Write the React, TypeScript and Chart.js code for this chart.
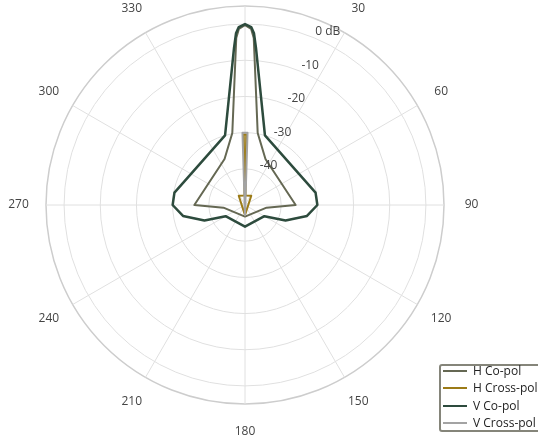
import React, { useEffect, useRef } from 'react';
import { Chart, registerables } from 'chart.js';

Chart.register(...registerables);

// Categories: one per degree (clockwise from top)
const degreeLabels: string[] = Array.from({ length: 360 }, (_, i) => String(i));

// Angular tick labels
const angleTickDegrees = [0, 30, 60, 90, 120, 150, 180, 210, 240, 270, 300, 330];
const angleTickLabels = ['0', '30', '60', '90', '120', '150', '180', '210', '240', '270', '300', '330'];

// Radial tick labels
const radialTickValues = [0, -10, -20, -30, -40];
const radialTickLabels = ['0 dB', '-10', '-20', '-30', '-40'];

// Series: measured angles (deg) and levels (dB)
const hCoAngles = [0, 2, 3, 10, 24, 90, 97, 180, 263, 270, 336, 350, 357, 358];
const hCoValues = [-0.3, -1.3, -3.8, -29.8, -36.1, -36, -44, -46.8, -44, -36, -36.1, -29.8, -3.8, -1.3];

const hCrossAngles = [0, 1, 3, 34, 180, 326, 357, 359];
const hCrossValues = [-30.5, -30.5, -47.4, -46.9, -47.2, -46.9, -47.4, -30.5];

const vCoAngles = [0, 2, 3, 4, 16, 80, 90, 100, 111, 120, 180, 240, 249, 260, 270, 280, 344, 356, 357, 358];
const vCoValues = [0, -0.8, -2.5, -6.5, -30, -30.2, -30, -32.6, -38, -43.8, -44, -43.8, -38, -32.6, -30, -30.2, -30, -6.5, -2.5, -0.8];

const vCrossAngles = [0, 2, 180, 358];
const vCrossValues = [-30, -30, -47.2, -30];

const seriesNames = ['H Co-pol', 'H Cross-pol', 'V Co-pol', 'V Cross-pol'];
const seriesColors = ['#656853', '#9C7B17', '#2D4B3D', '#A3A3A3'];

function toSeries(angles: number[], values: number[]): (number | null)[] {
  const arr: (number | null)[] = degreeLabels.map(() => null);
  angles.forEach((a, i) => {
    arr[a] = values[i];
  });
  return arr;
}

const labelPlugin = {
  id: 'polarLabels',
  afterDraw(chart: any) {
    const scale = chart.scales.r;
    const ctx = chart.ctx;
    ctx.save();
    ctx.font = '12px "Open Sans"';
    ctx.fillStyle = '#444444';
    ctx.textAlign = 'center';
    ctx.textBaseline = 'middle';
    const outer = scale.getDistanceFromCenterForValue(scale.max);
    angleTickDegrees.forEach((deg, i) => {
      const p = scale.getPointPosition(deg, outer + 27.5);
      ctx.fillText(angleTickLabels[i], p.x, p.y);
    });
    ctx.textAlign = 'left';
    radialTickValues.forEach((v, i) => {
      const p = scale.getPointPosition(22.5, scale.getDistanceFromCenterForValue(v));
      ctx.fillText(radialTickLabels[i], p.x + 1, p.y - 6);
    });
    ctx.restore();
  },
};

export default function App() {
  const canvasRef = useRef<HTMLCanvasElement | null>(null);

  useEffect(() => {
    if (!canvasRef.current) return;
    const mk = (label: string, color: string, data: (number | null)[], width: number, order: number) => ({
      label,
      data,
      borderColor: color,
      backgroundColor: color,
      borderWidth: width,
      pointRadius: 0,
      pointHoverRadius: 0,
      pointHitRadius: 0,
      fill: false,
      spanGaps: true,
      tension: 0,
      borderJoinStyle: 'round' as const,
      order,
    });
    const chart = new Chart(canvasRef.current, {
      type: 'radar',
      data: {
        labels: degreeLabels,
        datasets: [
          mk(seriesNames[0], seriesColors[0], toSeries(hCoAngles, hCoValues), 2, 4),
          mk(seriesNames[1], seriesColors[1], toSeries(hCrossAngles, hCrossValues), 2, 3),
          mk(seriesNames[2], seriesColors[2], toSeries(vCoAngles, vCoValues), 2.5, 2),
          mk(seriesNames[3], seriesColors[3], toSeries(vCrossAngles, vCrossValues), 2, 1),
        ],
      },
      options: {
        responsive: false,
        animation: false,
        devicePixelRatio: 1,
        layout: { padding: { left: 46, top: 6, right: 94, bottom: 36 } },
        plugins: {
          legend: { display: false },
          tooltip: { enabled: false },
        },
        events: [],
        scales: {
          r: {
            min: -50,
            max: 5,
            startAngle: 0,
            ticks: { display: false, stepSize: 10 },
            pointLabels: { display: false },
            grid: {
              circular: true,
              color: (c: any) => (c.tick && c.tick.value === 5 ? '#cdcdcd' : c.tick && c.tick.value === -50 ? 'rgba(0,0,0,0)' : '#e0e0e0'),
              lineWidth: (c: any) => (c.tick && c.tick.value === 5 ? 1.5 : 1),
            },
            angleLines: {
              display: true,
              color: '#e0e0e0',
              lineWidth: (c: any) => (c.index % 30 === 0 ? 1 : 0),
            },
          },
        },
      },
      plugins: [labelPlugin],
    });
    return () => chart.destroy();
  }, []);

  const rowCenters = [371, 388.3, 405.7, 423];

  return (
    <div
      style={{
        position: 'absolute',
        left: 0,
        top: 0,
        width: 538,
        height: 440,
        overflow: 'hidden',
        background: '#ffffff',
      }}
    >
      <canvas ref={canvasRef} width={538} height={440} style={{ position: 'absolute', left: 0, top: 0, width: 538, height: 440 }} />
      <div
        style={{
          position: 'absolute',
          left: 439,
          top: 364,
          width: 130,
          height: 68,
          boxSizing: 'border-box',
          border: '2px solid #85857a',
          borderRadius: 3,
          background: '#ffffff',
        }}
      />
      {seriesNames.map((name, i) => (
        <React.Fragment key={name}>
          <div
            style={{
              position: 'absolute',
              left: 443,
              top: rowCenters[i] - 1,
              width: 24,
              height: 2,
              background: seriesColors[i],
            }}
          />
          <div
            style={{
              position: 'absolute',
              left: 473,
              top: rowCenters[i] - 9,
              height: 18,
              lineHeight: '18px',
              fontFamily: '"Open Sans", sans-serif',
              fontSize: 12,
              color: '#222222',
              whiteSpace: 'nowrap',
            }}
          >
            {name}
          </div>
        </React.Fragment>
      ))}
    </div>
  );
}
